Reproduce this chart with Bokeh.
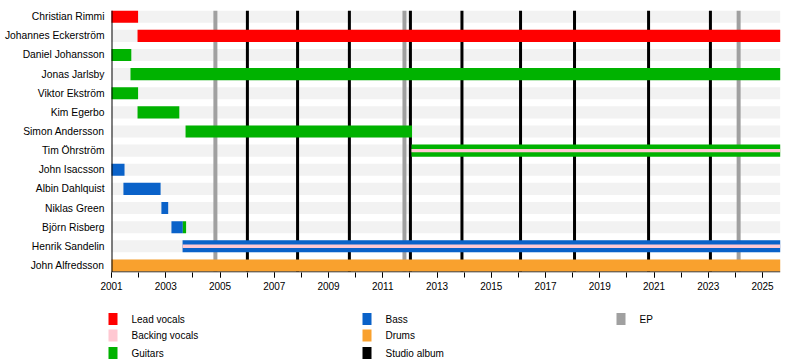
from bokeh.plotting import figure
from bokeh.models import ColumnDataSource, FixedTicker, Range1d
from bokeh.layouts import column
from bokeh.core.properties import value
from bokeh.embed import file_html
from bokeh.resources import INLINE

FONT = "Liberation Sans"

members = ["Christian Rimmi", "Johannes Eckerström", "Daniel Johansson", "Jonas Jarlsby",
           "Viktor Ekström", "Kim Egerbo", "Simon Andersson", "Tim Öhrström", "John Isacsson",
           "Albin Dahlquist", "Niklas Green", "Björn Risberg", "Henrik Sandelin", "John Alfredsson"]

START = 2001.0
END = 2025.66

bar_member = ["Christian Rimmi", "Johannes Eckerström", "Daniel Johansson", "Jonas Jarlsby",
              "Viktor Ekström", "Kim Egerbo", "Simon Andersson", "Tim Öhrström", "John Isacsson",
              "Albin Dahlquist", "Niklas Green", "Björn Risberg", "Björn Risberg",
              "Henrik Sandelin", "John Alfredsson"]
bar_start = [2001.0, 2001.96, 2001.0, 2001.70, 2001.0, 2001.96, 2003.73, 2012.06, 2001.0,
             2001.44, 2002.84, 2003.21, 2003.63, 2003.62, 2001.0]
bar_end = [2001.98, END, 2001.73, END, 2001.98, 2003.50, 2012.08, END, 2001.48,
           2002.81, 2003.09, 2003.63, 2003.75, END, END]
bar_role = ["Lead vocals", "Lead vocals", "Guitars", "Guitars", "Guitars", "Guitars", "Guitars",
            "Guitars", "Bass", "Bass", "Bass", "Bass", "Guitars", "Bass", "Drums"]

stripe_member = ["Tim Öhrström", "Henrik Sandelin"]
stripe_start = [2012.06, 2003.62]
stripe_end = [END, END]
stripe_role = ["Backing vocals", "Backing vocals"]

album_years = [2006.01, 2007.86, 2009.77, 2012.02, 2013.92, 2016.08, 2018.07, 2020.80, 2023.08]
ep_years = [2004.83, 2011.80, 2024.12]

roles = ["Lead vocals", "Backing vocals", "Guitars", "Bass", "Drums", "Studio album", "EP"]
role_colors = ["#ff0000", "#ffc8d2", "#00b200", "#0a62c9", "#f9a12e", "#000000", "#a0a0a0"]
color_of = dict(zip(roles, role_colors))

year_ticks = list(range(2001, 2026, 2))
year_minor = list(range(2001, 2026))

n = len(members)
ypos = {m: n - 1 - i for i, m in enumerate(members)}

BAR_H = 0.63
STRIPE_H = 0.18

# layout geometry (pixels)
W = 800
FRAME_L = 106
FRAME_R = 780
PX_PER_YEAR = 27.125
x_lo = START - (111 - FRAME_L) / PX_PER_YEAR
x_hi = x_lo + (FRAME_R - FRAME_L) / PX_PER_YEAR
y_lo, y_hi = -0.37, 13.43

p = figure(width=W, height=298, output_backend="svg", toolbar_location=None,
           x_range=Range1d(x_lo, x_hi), y_range=Range1d(y_lo, y_hi),
           min_border_left=FRAME_L, min_border_right=W - FRAME_R,
           min_border_top=8, min_border_bottom=26)
p.outline_line_color = None
p.grid.visible = False
p.background_fill_color = "white"

# background rows
bg = ColumnDataSource(dict(y=[ypos[m] for m in members], left=[START] * n, right=[END] * n))
p.hbar(y="y", left="left", right="right", height=BAR_H, source=bg,
       fill_color="#f2f2f2", line_color=None)

# release lines
top = n - 1 + BAR_H / 2
bot = -BAR_H / 2
p.segment(x0=ep_years, y0=[bot] * len(ep_years), x1=ep_years, y1=[top] * len(ep_years),
          line_color=color_of["EP"], line_width=4)
p.segment(x0=album_years, y0=[bot] * len(album_years), x1=album_years, y1=[top] * len(album_years),
          line_color=color_of["Studio album"], line_width=3)

# member bars
bars = ColumnDataSource(dict(y=[ypos[m] for m in bar_member], left=bar_start, right=bar_end,
                             color=[color_of[r] for r in bar_role]))
p.hbar(y="y", left="left", right="right", height=BAR_H, source=bars,
       fill_color="color", line_color=None)
stripes = ColumnDataSource(dict(y=[ypos[m] for m in stripe_member], left=stripe_start,
                                right=stripe_end, color=[color_of[r] for r in stripe_role]))
p.hbar(y="y", left="left", right="right", height=STRIPE_H, source=stripes,
       fill_color="color", line_color=None)

# axis lines starting at the first year
base_y = y_lo + 0.5 / 19.1
p.segment(x0=[START], y0=[base_y], x1=[END], y1=[base_y], line_color="black", line_width=1)
p.segment(x0=[START + 0.5 / PX_PER_YEAR], y0=[base_y], x1=[START + 0.5 / PX_PER_YEAR], y1=[top],
          line_color="black", line_width=1)

xa = p.xaxis[0]
xa.ticker = FixedTicker(ticks=year_ticks, minor_ticks=year_minor)
xa.major_label_text_font = FONT
xa.major_label_text_font_size = "10px"
xa.major_label_text_color = "black"
xa.axis_line_color = None
xa.major_tick_line_color = "black"
xa.minor_tick_line_color = "black"
xa.major_tick_out = 5
xa.major_tick_in = 0
xa.minor_tick_out = 5
xa.minor_tick_in = 0
xa.major_label_standoff = 4

ya = p.yaxis[0]
ya.ticker = FixedTicker(ticks=[ypos[m] for m in members], minor_ticks=[])
ya.major_label_overrides = {ypos[m]: m for m in members}
ya.major_label_text_font = FONT
ya.major_label_text_font_size = "10.3px"
ya.major_label_text_color = "black"
ya.axis_line_color = None
ya.major_tick_out = 0
ya.major_tick_in = 0
ya.minor_tick_out = 0
ya.minor_tick_in = 0
ya.major_label_standoff = 2

# legend figure (its frame is aligned with the chart frame; x in page pixels)
LH = 62
leg = figure(width=W, height=LH, output_backend="svg", toolbar_location=None,
             x_range=Range1d(FRAME_L, FRAME_R), y_range=Range1d(0, LH),
             x_axis_type=None, y_axis_type=None,
             min_border_left=FRAME_L, min_border_right=W - FRAME_R,
             min_border_top=0, min_border_bottom=0)
leg.outline_line_color = None
leg.background_fill_color = "white"

col_x = [108, 362, 616]
row_y = [41.5, 25, 7.5]
leg_col = [0, 0, 0, 1, 1, 1, 2]
leg_row = [0, 1, 2, 0, 1, 2, 0]
sw_x = [col_x[c] + 4.5 for c in leg_col]
sw_y = [row_y[r] for r in leg_row]
leg.rect(x=sw_x, y=sw_y, width=9, height=12, fill_color=role_colors, line_color=None)
leg.text(x=[col_x[c] + 23 for c in leg_col], y=sw_y, text=roles,
         text_font=value(FONT), text_font_size="10px", text_color="black",
         text_align="left", text_baseline="middle")

layout = column(p, leg, spacing=0)
open("out.html", "w").write(file_html(layout, INLINE))
